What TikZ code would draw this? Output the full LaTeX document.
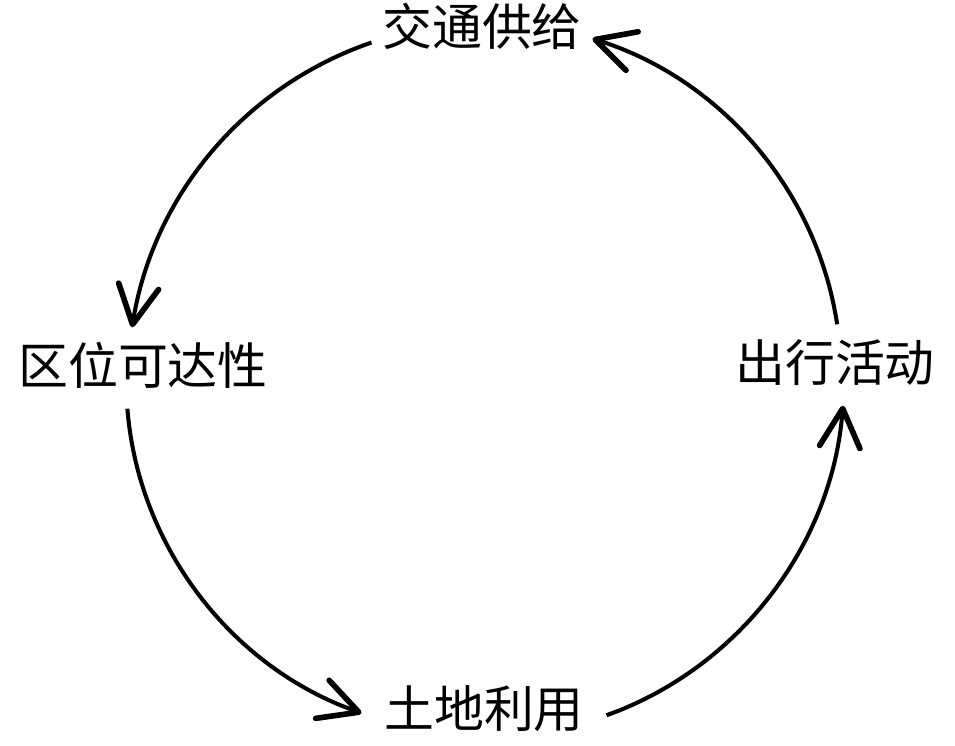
\documentclass[tikz,border=0pt]{standalone}
\usepackage{fontspec}
\newfontfamily\cjk{Noto Sans CJK SC}
\usetikzlibrary{arrows.meta}

\tikzstyle{vertex}=[font=\cjk\fontsize{14.2pt}{17pt}\selectfont,text height=0.42cm,text depth=0.08cm,inner ysep=0.15cm,inner xsep=0.1cm]
\tikzstyle{arrowdecorate}=[-{Straight Barb[length=11pt,width=11.5pt,line width=1.6pt,round]},line width=1.15pt,looseness=0.92]

\begin{document}
\begin{tikzpicture}
      \useasboundingbox (0,0) rectangle (9.55,7.46);
      % nodes
      \foreach \nodename/\x/\y/\word/\sep in {
        gong/4.82/7.17/交通供给/0.1cm,
        qu/1.43/3.78/区位可达性/0.1cm,
        chu/8.35/3.81/出行活动/0.1cm,
        tudi/4.84/0.35/土地利用/0.22cm}
      {
        \node[vertex, inner xsep=\sep] (\nodename) at (\x,\y) {\word};
      };
      %edges
      \path
      \foreach \startnode/\startangle/\endnode/\endangle/\angle in {
        gong/187/qu/105/31, qu/249/tudi/181/33, tudi/358/chu/281/33, chu/87/gong/355/32}
      {
        (\startnode.\startangle) edge[arrowdecorate,bend right=\angle] (\endnode.\endangle)
      };
\end{tikzpicture}
\end{document}
